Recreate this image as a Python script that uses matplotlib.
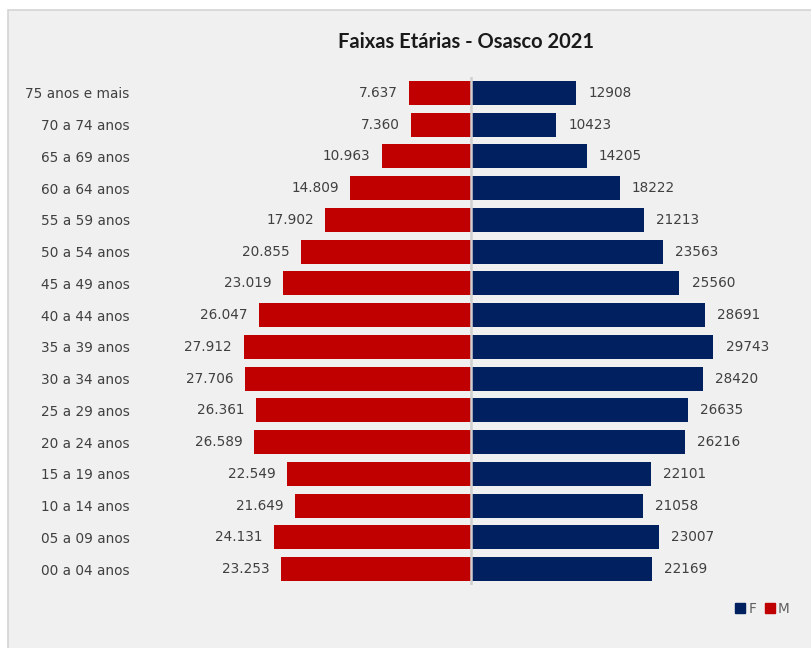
import matplotlib.pyplot as plt
from matplotlib.patches import Rectangle
from matplotlib.lines import Line2D

faixas = ['75 anos e mais', '70 a 74 anos', '65 a 69 anos', '60 a 64 anos',
          '55 a 59 anos', '50 a 54 anos', '45 a 49 anos', '40 a 44 anos',
          '35 a 39 anos', '30 a 34 anos', '25 a 29 anos', '20 a 24 anos',
          '15 a 19 anos', '10 a 14 anos', '05 a 09 anos', '00 a 04 anos']
masc = [7637, 7360, 10963, 14809, 17902, 20855, 23019, 26047,
        27912, 27706, 26361, 26589, 22549, 21649, 24131, 23253]
fem = [12908, 10423, 14205, 18222, 21213, 23563, 25560, 28691,
       29743, 28420, 26635, 26216, 22101, 21058, 23007, 22169]

red = '#C00000'
navy = '#002060'
txt = '#404040'

fig = plt.figure(figsize=(8.11, 6.48), dpi=100, facecolor='white')
fig.patches.append(Rectangle((8 / 811, -0.01), 1.0, 1 - 10 / 648 + 0.01,
                             transform=fig.transFigure, facecolor='#f0f0f0',
                             edgecolor='#d4d4d4', linewidth=1.2, zorder=-10))

ax = fig.add_axes([145 / 811, 63 / 648, 652 / 811, 508 / 648])
ax.set_facecolor('none')

y = list(range(len(faixas)))[::-1]
ax.barh(y, [-v for v in masc], height=0.76, color=red, zorder=2)
ax.barh(y, fem, height=0.76, color=navy, zorder=2)
ax.axvline(0, color='#d0d0d0', linewidth=1.8, zorder=3)

for yi, m, f in zip(y, masc, fem):
    ax.text(-m - 1400, yi, f'{m:,}'.replace(',', '.'), ha='right', va='center',
            fontsize=9.8, color=txt)
    ax.text(f + 1500, yi, str(f), ha='left', va='center',
            fontsize=9.8, color=txt)

ax.set_xlim(-40000, 40000)
ax.set_ylim(-0.5, 15.5)
ax.set_yticks(y)
ax.set_yticklabels(faixas, fontsize=9.8, color=txt)
ax.tick_params(axis='y', length=0, pad=11)
ax.set_xticks([])
for s in ax.spines.values():
    s.set_visible(False)

fig.text(466 / 811, 1 - 42 / 648, 'Faixas Etárias - Osasco 2021', ha='center',
         va='center', fontsize=14.5, fontweight='bold', family='Lato', color='#1a1a1a')

handles = [Line2D([], [], marker='s', linestyle='none', color=navy, markersize=7),
           Line2D([], [], marker='s', linestyle='none', color=red, markersize=7)]
fig.legend(handles, ['F', 'M'], loc='center right', bbox_to_anchor=(802 / 811, 1 - 609 / 648),
           ncol=2, frameon=False, fontsize=9.8, labelcolor='#606060',
           handlelength=0.8, handletextpad=0.2, columnspacing=0.6)

fig.savefig('out.png', dpi=100, facecolor=fig.get_facecolor())
